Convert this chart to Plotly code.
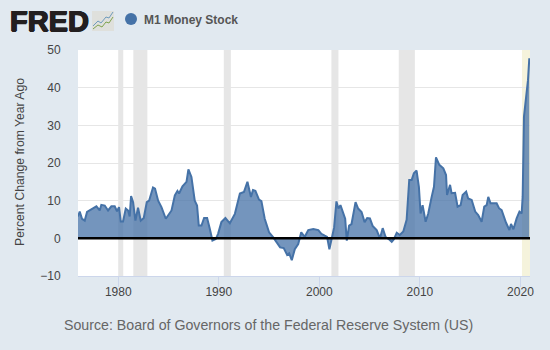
import plotly.graph_objects as go

years = [1976.0,1976.17,1976.4,1976.67,1976.9,1977.16,1977.5,1977.83,1978.16,1978.32,1978.66,1978.99,1979.32,1979.65,1979.88,1980.08,1980.25,1980.48,1980.75,1980.98,1981.14,1981.28,1981.48,1981.71,1981.97,1982.24,1982.54,1982.84,1983.07,1983.46,1983.66,1983.97,1984.3,1984.73,1985.3,1985.63,1985.89,1986.05,1986.39,1986.79,1986.98,1987.28,1987.61,1987.84,1988.01,1988.28,1988.54,1988.84,1989.1,1989.37,1989.7,1989.93,1990.26,1990.66,
1991.1,1991.6,1992.1,1992.5,1992.85,1993.2,1993.4,1993.64,1994.0,1994.24,1994.57,1995.0,1995.4,1995.73,1996.1,1996.46,1996.8,1997.0,1997.26,1997.56,1997.9,1998.2,1998.55,1998.9,1999.4,1999.9,2000.2,2000.54,2000.77,2001.0,2001.2,2001.47,2001.7,2001.9,2002.1,2002.37,2002.57,2002.73,2002.96,2003.2,2003.6,2003.86,2004.2,2004.5,2004.76,
2005.03,2005.3,2005.7,2006.03,2006.3,2006.6,2006.95,2007.2,2007.4,2007.7,2008.0,2008.35,2008.68,2008.94,2009.18,2009.4,2009.67,2009.9,2010.07,2010.27,2010.57,2010.83,2011.17,2011.4,2011.6,2011.93,2012.33,2012.6,2012.7,2013.0,2013.15,2013.5,2013.75,2014.05,2014.25,2014.6,2014.8,2015.15,2015.5,2015.8,2016.14,2016.4,2016.64,2016.8,2017.03,2017.37,2017.63,2017.87,2018.13,2018.56,2018.9,2019.06,2019.3,2019.62,2019.9,2020.12,2020.22,2020.35,2020.5,2020.62,2020.75,2020.88]
values = [5.8,7.1,5.2,4.7,7.0,7.4,7.9,8.5,7.4,8.9,8.7,7.4,8.5,8.5,7.2,8.3,4.5,4.5,7.9,7.4,5.8,11.2,9.6,4.7,8.1,4.7,5.4,9.6,10.0,13.5,13.2,10.0,8.3,5.2,7.4,11.4,12.6,11.9,13.8,15.0,18.3,16.3,10.0,8.7,3.4,3.4,5.4,5.4,2.6,-0.6,-0.2,1.2,4.3,5.4,
4.0,6.5,11.9,12.3,15.0,11.0,12.8,12.6,10.3,9.9,5.2,1.6,0.3,-1.1,-2.4,-2.6,-4.4,-4.0,-5.8,-2.9,-1.5,1.6,0.4,2.2,2.5,2.2,1.2,0.7,0.4,-2.9,-0.2,2.9,9.8,7.9,8.8,7.0,5.2,-0.6,3.4,3.8,9.6,7.9,7.0,4.3,5.4,
5.3,3.3,2.2,0.0,2.7,0.3,-0.3,-0.9,-0.3,1.5,0.9,1.8,4.9,15.5,15.5,17.3,18.0,13.7,6.6,8.8,4.4,6.6,11.0,13.7,21.5,19.5,18.6,16.8,11.5,14.2,12.0,12.1,8.4,8.8,11.5,12.4,10.6,10.2,7.1,6.2,4.4,8.4,8.8,11.0,9.3,9.3,9.3,8.0,7.5,4.2,2.2,3.8,2.4,5.3,7.1,6.6,11.0,32.3,35.8,40.3,42.0,47.8]
assert len(years) == len(values)

recession_starts = [1980.0, 1981.5, 1990.5, 2001.2, 2007.9]
recession_ends = [1980.5, 1982.9, 1991.2, 2001.9, 2009.5]
tick_years = [1980, 1990, 2000, 2010, 2020]
tick_values = [-10, 0, 10, 20, 30, 40, 50]

FONT = "Liberation Sans, Arial, sans-serif"
L, R, T, B = 78, 530, 50, 276
W, H = 550, 350
px = lambda x: (x - L) / (R - L)
py = lambda y: (B - y) / (B - T)

fig = go.Figure()
fig.add_trace(go.Scatter(x=years, y=values, mode="lines", name="M1 Money Stock",
                         line=dict(color="#4572a7", width=2),
                         fill="tozeroy", fillcolor="rgba(69,114,167,0.75)",
                         showlegend=False))

shapes = []
for s, e in zip(recession_starts, recession_ends):
    shapes.append(dict(type="rect", xref="x", yref="paper", x0=s, x1=e, y0=0, y1=1,
                       fillcolor="#e6e6e6", line_width=0, layer="below"))
shapes.append(dict(type="rect", xref="x", yref="paper", x0=2020.15, x1=2020.95, y0=0, y1=1,
                   fillcolor="#f5f3dc", line_width=0, layer="below"))
shapes.append(dict(type="line", xref="paper", yref="y", x0=0, x1=1, y0=0, y1=0,
                   line=dict(color="#000000", width=2.5)))
shapes.append(dict(type="circle", xref="paper", yref="paper",
                   x0=px(125), x1=px(137), y0=py(25), y1=py(13),
                   fillcolor="#4572a7", line_width=0))
shapes.append(dict(type="rect", xref="paper", yref="paper",
                   x0=px(92), x1=px(114), y0=py(31), y1=py(11),
                   fillcolor="#dfe0dc", line_width=0))
def path(pts):
    return "M" + " L".join(f"{px(a):.4f},{py(b):.4f}" for a, b in pts)
shapes.append(dict(type="path", xref="paper", yref="paper",
                   path=path([(93, 26), (98, 21), (101, 23), (106, 17), (109, 18), (113, 12)]),
                   line=dict(color="#6f9bbd", width=1)))
shapes.append(dict(type="path", xref="paper", yref="paper",
                   path=path([(93, 29), (98, 25), (102, 27), (106, 22), (109, 23), (113, 17)]),
                   line=dict(color="#7fa34f", width=1)))

annotations = [
    dict(text="<b>FRED</b>", xref="paper", yref="paper", x=px(8), y=py(21.5), xanchor="left",
         yanchor="middle", showarrow=False,
         font=dict(family=FONT, size=29, color="#231f20",
                   shadow="0.7px 0 0 #231f20, -0.7px 0 0 #231f20, 0 0.5px 0 #231f20, 0 -0.5px 0 #231f20")),
    dict(text="<b>M1 Money Stock</b>", xref="paper", yref="paper", x=px(142), y=py(20), xanchor="left",
         yanchor="middle", showarrow=False, font=dict(family=FONT, size=12, color="#555555")),
    dict(text="Source: Board of Governors of the Federal Reserve System (US)", xref="paper", yref="paper",
         x=px(62), y=py(325), xanchor="left", yanchor="middle", showarrow=False,
         font=dict(family=FONT, size=14.2, color="#666666")),
    dict(text="Percent Change from Year Ago", xref="paper", yref="paper", x=px(20), y=py(162),
         xanchor="center", yanchor="middle", textangle=-90, showarrow=False,
         font=dict(family=FONT, size=12.2, color="#444444")),
]

fig.update_layout(
    width=W, height=H, autosize=False,
    margin=dict(l=L, r=W - R, t=T, b=H - B, pad=0),
    paper_bgcolor="#e1e9f0", plot_bgcolor="#ffffff",
    shapes=shapes, annotations=annotations,
    font=dict(family=FONT, size=12, color="#333333"),
    showlegend=False,
    xaxis=dict(range=[1976, 2020.95], tickmode="array", tickvals=tick_years,
               ticktext=[str(t) for t in tick_years], ticks="outside", ticklen=10,
               ticklabelstandoff=-5,
               tickcolor="#ccd6eb", tickwidth=1, showgrid=False, zeroline=False,
               showline=True, linecolor="#ccd6eb", linewidth=1,
               tickfont=dict(family=FONT, size=12, color="#444444")),
    yaxis=dict(range=[-10, 50], tickmode="array", tickvals=tick_values, ticks="outside",
               ticklen=14, tickcolor="rgba(0,0,0,0)",
               showgrid=True, gridcolor="#e6e6e6", gridwidth=1, zeroline=False,
               showline=False, tickfont=dict(family=FONT, size=12, color="#444444")),
)
fig.write_html("out.html", config={"displayModeBar": False},
               post_script="document.body.style.margin='0';document.body.style.background='#e1e9f0';")
